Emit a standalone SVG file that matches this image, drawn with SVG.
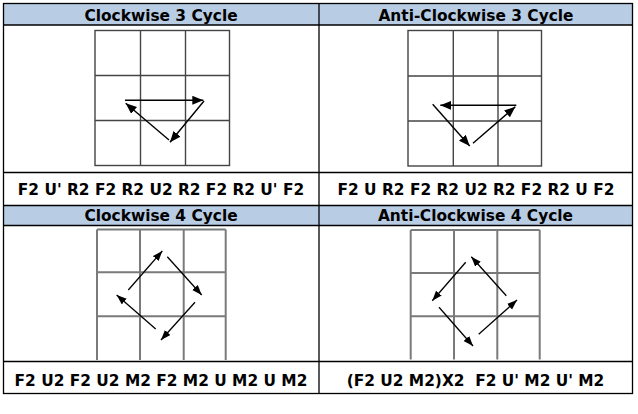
<svg xmlns="http://www.w3.org/2000/svg" width="638" height="414" viewBox="0 0 638 414">
<defs>
<style>
.hdr{fill:#b8cce4}
.bd{stroke:#000;stroke-width:1.3;fill:none}
.t{font-family:"DejaVu Sans","Verdana",sans-serif;font-weight:bold;font-size:15.4px;fill:#000;text-anchor:middle}
.g1{stroke:#444;stroke-width:1.4;fill:none}
.g2{stroke:#7a7a7a;stroke-width:2;fill:none}
.ar{stroke:#000;stroke-width:1.4;fill:none;marker-end:url(#ah)}
.ar2{stroke:#000;stroke-width:1.3;fill:none;marker-end:url(#ah2)}
</style>
<marker id="ah" markerUnits="userSpaceOnUse" markerWidth="12" markerHeight="10" refX="11" refY="4.5" orient="auto">
<path d="M0,0 L11,4.5 L0,9 z" fill="#000"/>
</marker>
<marker id="ah2" markerUnits="userSpaceOnUse" markerWidth="11" markerHeight="9" refX="10" refY="3.75" orient="auto">
<path d="M0,0 L10,3.75 L0,7.5 z" fill="#000"/>
</marker>
</defs>
<rect width="638" height="414" fill="#fff"/>
<g id="table">
<rect class="hdr" x="3.5" y="3.5" width="629" height="21.5"/>
<rect class="hdr" x="3.5" y="205.5" width="629" height="20"/>
<rect class="bd" x="3.5" y="3.5" width="629" height="390"/>
<line class="bd" x1="319" y1="3.5" x2="319" y2="393.5"/>
<line class="bd" x1="3.5" y1="25" x2="632.5" y2="25"/>
<line class="bd" x1="3.5" y1="172.5" x2="632.5" y2="172.5"/>
<line class="bd" x1="3.5" y1="205.5" x2="632.5" y2="205.5"/>
<line class="bd" x1="3.5" y1="225.5" x2="632.5" y2="225.5"/>
<line class="bd" x1="3.5" y1="361.5" x2="632.5" y2="361.5"/>
</g>
<g id="cw3">
<text class="t" x="161" y="20.7">Clockwise 3 Cycle</text>
<g class="g1">
<rect x="95" y="30.5" width="134.5" height="135"/>
<line x1="140.5" y1="30.5" x2="140.5" y2="165.5"/>
<line x1="185.5" y1="30.5" x2="185.5" y2="165.5"/>
<line x1="95" y1="75.5" x2="229.5" y2="75.5"/>
<line x1="95" y1="120.5" x2="229.5" y2="120.5"/>
</g>
<text class="t" x="161" y="195">F2 U' R2 F2 R2 U2 R2 F2 R2 U' F2</text>
</g>
<g id="acw3">
<text class="t" x="476" y="20.7">Anti-Clockwise 3 Cycle</text>
<g class="g1">
<rect x="408" y="30.5" width="133.5" height="135.5"/>
<line x1="453.3" y1="30.5" x2="453.3" y2="166"/>
<line x1="498" y1="30.5" x2="498" y2="166"/>
<line x1="408" y1="76" x2="541.5" y2="76"/>
<line x1="408" y1="121" x2="541.5" y2="121"/>
</g>
<text class="t" x="476" y="195">F2 U R2 F2 R2 U2 R2 F2 R2 U F2</text>
</g>
<g id="cw4">
<text class="t" x="161" y="220.7">Clockwise 4 Cycle</text>
<g class="g2">
<line x1="97" y1="229.5" x2="97" y2="360"/>
<line x1="140" y1="229.5" x2="140" y2="360"/>
<line x1="183.7" y1="229.5" x2="183.7" y2="360"/>
<line x1="225.7" y1="229.5" x2="225.7" y2="360"/>
<line x1="97" y1="229.5" x2="225.7" y2="229.5"/>
<line x1="97" y1="272.3" x2="225.7" y2="272.3"/>
<line x1="97" y1="316.3" x2="225.7" y2="316.3"/>
</g>
<text class="t" x="161" y="385.5">F2 U2 F2 U2 M2 F2 M2 U M2 U M2</text>
</g>
<g id="acw4">
<text class="t" x="475.5" y="220.7">Anti-Clockwise 4 Cycle</text>
<g class="g2">
<line x1="410.7" y1="230" x2="410.7" y2="359.5"/>
<line x1="454" y1="230" x2="454" y2="359.5"/>
<line x1="497.3" y1="230" x2="497.3" y2="359.5"/>
<line x1="539.7" y1="230" x2="539.7" y2="359.5"/>
<line x1="410.7" y1="230" x2="539.7" y2="230"/>
<line x1="410.7" y1="273" x2="539.7" y2="273"/>
<line x1="410.7" y1="316.3" x2="539.7" y2="316.3"/>
</g>
<text class="t" x="475.5" y="385.5" xml:space="preserve">(F2 U2 M2)X2  F2 U' M2 U' M2</text>
</g>
<g id="connectors">
<line class="ar" x1="125" y1="100.3" x2="203.3" y2="100.3"/>
<line class="ar" x1="204" y1="101" x2="170" y2="142.3"/>
<line class="ar" x1="169" y1="140" x2="125.7" y2="103.3"/>
<line class="ar" x1="516.3" y1="105.3" x2="440.3" y2="105.3"/>
<line class="ar" x1="432.7" y1="104.3" x2="469.7" y2="146"/>
<line class="ar" x1="473" y1="143.3" x2="515.3" y2="106.7"/>
<line class="ar2" x1="128.3" y1="290" x2="162.3" y2="251"/>
<line class="ar2" x1="167.3" y1="256.7" x2="201.7" y2="295"/>
<line class="ar2" x1="195" y1="302.3" x2="161" y2="340"/>
<line class="ar2" x1="155.7" y1="329" x2="116.7" y2="295"/>
<line class="ar2" x1="465.7" y1="262.3" x2="432.3" y2="300.7"/>
<line class="ar2" x1="439" y1="307.3" x2="473" y2="346"/>
<line class="ar2" x1="478.7" y1="334.3" x2="517" y2="300"/>
<line class="ar2" x1="506.3" y1="295.7" x2="471.3" y2="256.7"/>
</g>
</svg>
